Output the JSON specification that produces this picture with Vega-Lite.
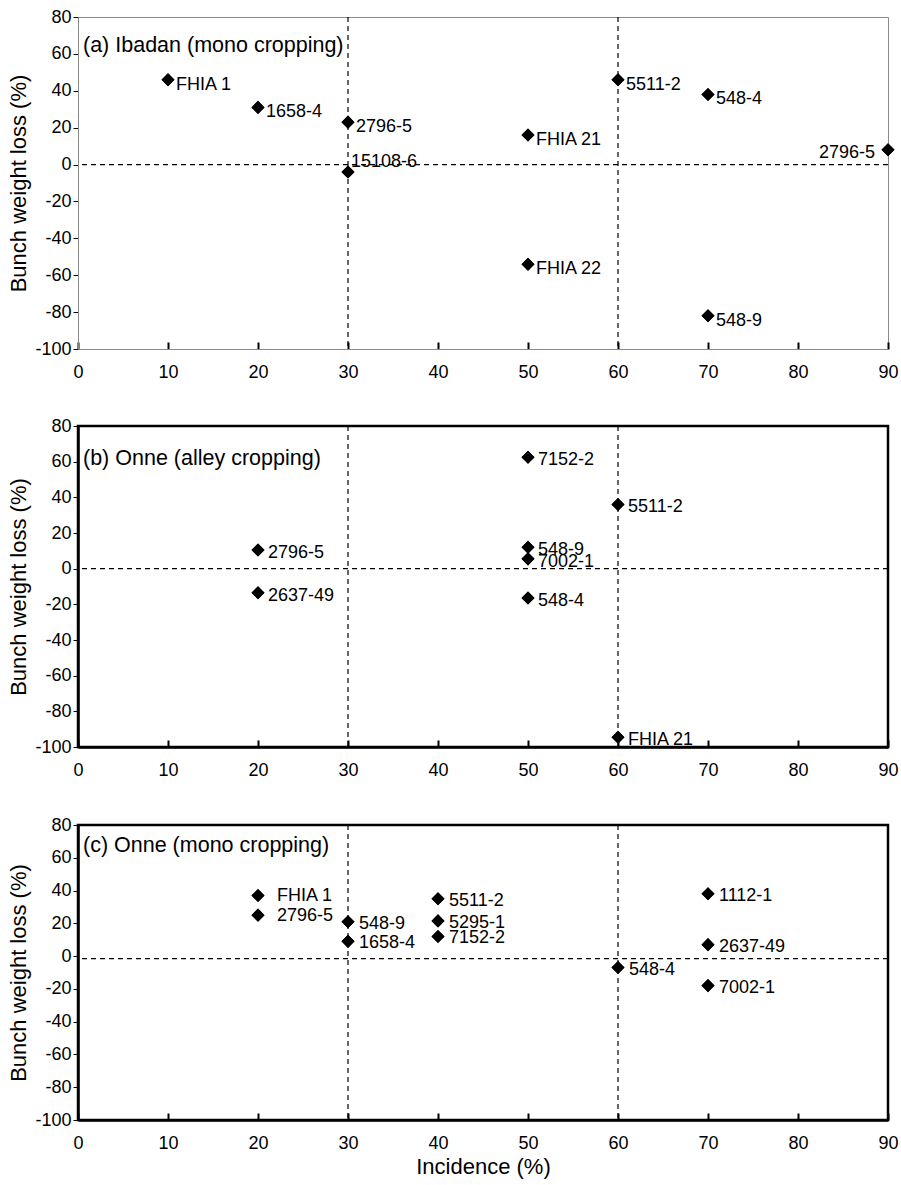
{
  "$schema": "https://vega.github.io/schema/vega-lite/v6.json",
  "background": "white",
  "padding": {"left": 6, "top": 7, "right": 4, "bottom": 2},
  "spacing": 33,
  "config": {
    "font": "Liberation Sans",
    "view": {"stroke": "black", "strokeWidth": 2.5},
    "axis": {"grid": false, "labelColor": "black", "titleColor": "black", "domainColor": "black", "tickColor": "black", "labelFontSize": 18, "titleFontSize": 22, "titleFontWeight": "normal", "labelFont": "Liberation Sans", "titleFont": "Liberation Sans", "labelOverlap": false, "labelExpr": "'' + datum.value"},
    "axisX": {"tickSize": -7, "tickWidth": 2, "domainWidth": 2.5, "labelPadding": 21, "labelFlush": false, "titlePadding": 4},
    "axisY": {"tickSize": 5, "tickWidth": 1, "domainWidth": 2.5, "labelPadding": 2, "titlePadding": 4, "labelFlush": false},
    "title": {"frame": "group", "anchor": "start", "fontSize": 21.5, "fontWeight": "normal", "color": "black", "baseline": "alphabetic", "font": "Liberation Sans"},
    "text": {"font": "Liberation Sans", "fontSize": 18, "color": "black", "baseline": "middle", "align": "left"}
  },
  "vconcat": [
    {
      "width": 810,
      "height": 332,
      "title": {"text": "(a) Ibadan (mono cropping)", "offset": -48, "dx": 5},
      "view": {"stroke": "#8a8a8a", "strokeWidth": 1},
      "data": {"values": [
        {"label": "FHIA 1", "incidence": 10, "loss": 46},
        {"label": "1658-4", "incidence": 20, "loss": 31},
        {"label": "2796-5", "incidence": 30, "loss": 23},
        {"label": "15108-6", "incidence": 30, "loss": -4},
        {"label": "FHIA 21", "incidence": 50, "loss": 16},
        {"label": "5511-2", "incidence": 60, "loss": 46},
        {"label": "548-4", "incidence": 70, "loss": 38},
        {"label": "2796-5", "incidence": 90, "loss": 8},
        {"label": "FHIA 22", "incidence": 50, "loss": -54},
        {"label": "548-9", "incidence": 70, "loss": -82}
      ]},
      "layer": [
        {
          "mark": {"type": "point", "shape": "diamond", "filled": true, "color": "black", "size": 170, "opacity": 1},
          "encoding": {
            "x": {"field": "incidence", "type": "quantitative", "scale": {"domain": [0, 90], "nice": false}, "axis": {"title": null, "values": [0, 10, 20, 30, 40, 50, 60, 70, 80, 90], "tickCount": 20, "domainColor": "#8a8a8a", "domainWidth": 1}},
            "y": {"field": "loss", "type": "quantitative", "scale": {"domain": [-100, 80], "nice": false}, "axis": {"title": "Bunch weight loss (%)", "values": [-100, -80, -60, -40, -20, 0, 20, 40, 60, 80], "tickCount": 20, "domainColor": "#8a8a8a", "domainWidth": 1}}
          }
        },
        {
          "data": {"values": [{"incidence": 30}, {"incidence": 60}]},
          "mark": {"type": "rule", "strokeDash": [5, 4], "color": "black", "strokeWidth": 1.2},
          "encoding": {"x": {"field": "incidence", "type": "quantitative"}}
        },
        {
          "data": {"values": [{"loss": 0}]},
          "mark": {"type": "rule", "strokeDash": [5, 4], "color": "black", "strokeWidth": 1.2},
          "encoding": {"y": {"field": "loss", "type": "quantitative"}}
        },
        {
          "mark": {"type": "point", "shape": "diamond", "filled": true, "color": "black", "size": 170, "opacity": 1},
          "encoding": {
            "x": {"field": "incidence", "type": "quantitative"},
            "y": {"field": "loss", "type": "quantitative"}
          }
        },
        {
          "transform": [{"filter": "datum.incidence < 90 && datum.label != '15108-6'"}],
          "mark": {"type": "text", "dx": 8, "dy": 5},
          "encoding": {
            "x": {"field": "incidence", "type": "quantitative"},
            "y": {"field": "loss", "type": "quantitative"},
            "text": {"field": "label"}
          }
        },
        {
          "transform": [{"filter": "datum.label == '15108-6'"}],
          "mark": {"type": "text", "dx": 3, "dy": -10},
          "encoding": {
            "x": {"field": "incidence", "type": "quantitative"},
            "y": {"field": "loss", "type": "quantitative"},
            "text": {"field": "label"}
          }
        },
        {
          "transform": [{"filter": "datum.incidence == 90"}],
          "mark": {"type": "text", "dx": -13, "dy": 3, "align": "right"},
          "encoding": {
            "x": {"field": "incidence", "type": "quantitative"},
            "y": {"field": "loss", "type": "quantitative"},
            "text": {"field": "label"}
          }
        }
      ]
    },
    {
      "width": 810,
      "height": 321,
      "title": {"text": "(b) Onne (alley cropping)", "offset": -52, "dx": 5},
      "data": {"values": [
        {"label": "2796-5", "incidence": 20, "loss": 10.5},
        {"label": "2637-49", "incidence": 20, "loss": -13.5},
        {"label": "7152-2", "incidence": 50, "loss": 62.5},
        {"label": "5511-2", "incidence": 60, "loss": 36},
        {"label": "548-9", "incidence": 50, "loss": 12},
        {"label": "7002-1", "incidence": 50, "loss": 5.5},
        {"label": "548-4", "incidence": 50, "loss": -16.5},
        {"label": "FHIA 21", "incidence": 60, "loss": -94.5}
      ]},
      "layer": [
        {
          "mark": {"type": "point", "shape": "diamond", "filled": true, "color": "black", "size": 170, "opacity": 1},
          "encoding": {
            "x": {"field": "incidence", "type": "quantitative", "scale": {"domain": [0, 90], "nice": false}, "axis": {"title": null, "values": [0, 10, 20, 30, 40, 50, 60, 70, 80, 90], "tickCount": 20}},
            "y": {"field": "loss", "type": "quantitative", "scale": {"domain": [-100, 80], "nice": false}, "axis": {"title": "Bunch weight loss (%)", "values": [-100, -80, -60, -40, -20, 0, 20, 40, 60, 80], "tickCount": 20}}
          }
        },
        {
          "data": {"values": [{"incidence": 30}, {"incidence": 60}]},
          "mark": {"type": "rule", "strokeDash": [5, 4], "color": "black", "strokeWidth": 1.2},
          "encoding": {"x": {"field": "incidence", "type": "quantitative"}}
        },
        {
          "data": {"values": [{"loss": 0}]},
          "mark": {"type": "rule", "strokeDash": [5, 4], "color": "black", "strokeWidth": 1.2},
          "encoding": {"y": {"field": "loss", "type": "quantitative"}}
        },
        {
          "mark": {"type": "point", "shape": "diamond", "filled": true, "color": "black", "size": 170, "opacity": 1},
          "encoding": {
            "x": {"field": "incidence", "type": "quantitative"},
            "y": {"field": "loss", "type": "quantitative"}
          }
        },
        {
          "mark": {"type": "text", "dx": 10, "dy": 3},
          "encoding": {
            "x": {"field": "incidence", "type": "quantitative"},
            "y": {"field": "loss", "type": "quantitative"},
            "text": {"field": "label"}
          }
        }
      ]
    },
    {
      "width": 810,
      "height": 295,
      "title": {"text": "(c) Onne (mono cropping)", "offset": -40, "dx": 5},
      "data": {"values": [
        {"label": "FHIA 1", "incidence": 20, "loss": 37},
        {"label": "2796-5", "incidence": 20, "loss": 25},
        {"label": "548-9", "incidence": 30, "loss": 21},
        {"label": "1658-4", "incidence": 30, "loss": 9},
        {"label": "5511-2", "incidence": 40, "loss": 35},
        {"label": "5295-1", "incidence": 40, "loss": 21.5},
        {"label": "7152-2", "incidence": 40, "loss": 12},
        {"label": "1112-1", "incidence": 70, "loss": 38},
        {"label": "2637-49", "incidence": 70, "loss": 7},
        {"label": "548-4", "incidence": 60, "loss": -7},
        {"label": "7002-1", "incidence": 70, "loss": -18}
      ]},
      "layer": [
        {
          "mark": {"type": "point", "shape": "diamond", "filled": true, "color": "black", "size": 170, "opacity": 1},
          "encoding": {
            "x": {"field": "incidence", "type": "quantitative", "scale": {"domain": [0, 90], "nice": false}, "axis": {"title": "Incidence (%)", "values": [0, 10, 20, 30, 40, 50, 60, 70, 80, 90], "tickCount": 20}},
            "y": {"field": "loss", "type": "quantitative", "scale": {"domain": [-100, 80], "nice": false}, "axis": {"title": "Bunch weight loss (%)", "values": [-100, -80, -60, -40, -20, 0, 20, 40, 60, 80], "tickCount": 20}}
          }
        },
        {
          "data": {"values": [{"incidence": 30}, {"incidence": 60}]},
          "mark": {"type": "rule", "strokeDash": [5, 4], "color": "black", "strokeWidth": 1.2},
          "encoding": {"x": {"field": "incidence", "type": "quantitative"}}
        },
        {
          "data": {"values": [{"loss": -1.5}]},
          "mark": {"type": "rule", "strokeDash": [5, 4], "color": "black", "strokeWidth": 1.2},
          "encoding": {"y": {"field": "loss", "type": "quantitative"}}
        },
        {
          "mark": {"type": "point", "shape": "diamond", "filled": true, "color": "black", "size": 170, "opacity": 1},
          "encoding": {
            "x": {"field": "incidence", "type": "quantitative"},
            "y": {"field": "loss", "type": "quantitative"}
          }
        },
        {
          "transform": [{"filter": "datum.incidence != 20"}],
          "mark": {"type": "text", "dx": 11, "dy": 2},
          "encoding": {
            "x": {"field": "incidence", "type": "quantitative"},
            "y": {"field": "loss", "type": "quantitative"},
            "text": {"field": "label"}
          }
        },
        {
          "transform": [{"filter": "datum.incidence == 20"}],
          "mark": {"type": "text", "dx": 19, "dy": 1},
          "encoding": {
            "x": {"field": "incidence", "type": "quantitative"},
            "y": {"field": "loss", "type": "quantitative"},
            "text": {"field": "label"}
          }
        }
      ]
    }
  ]
}
